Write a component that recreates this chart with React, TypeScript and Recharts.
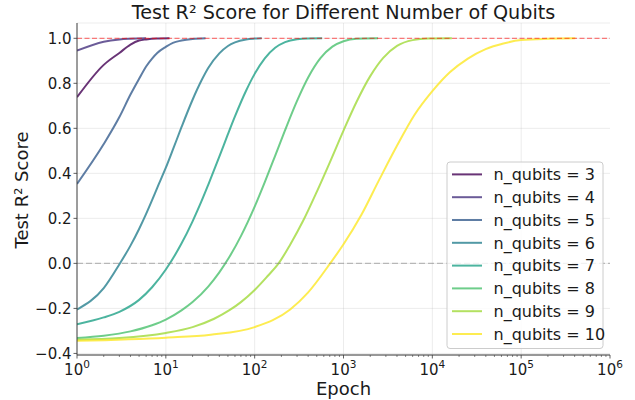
import React from 'react';
import { LineChart, Line, XAxis, YAxis, CartesianGrid, ReferenceLine } from 'recharts';

const QUBITS = [3, 4, 5, 6, 7, 8, 9, 10];
const COLORS = ['#440154', '#46327e', '#365c8d', '#277f8e', '#1fa187', '#4ac16d', '#a0da39', '#fde725'];

const EPOCHS_Q3 = [1, 2, 3, 4, 5, 6, 8, 11];
const R2_Q3 = [0.738, 0.882, 0.935, 0.972, 0.99, 0.995, 0.999, 1.0];
const EPOCHS_Q4 = [1, 2, 3, 4, 6];
const R2_Q4 = [0.945, 0.985, 0.995, 0.998, 1.0];
const EPOCHS_Q5 = [1, 2, 3, 4, 5, 6, 7, 8, 10, 12, 15, 20, 28];
const R2_Q5 = [0.353, 0.53, 0.65, 0.75, 0.82, 0.875, 0.91, 0.935, 0.962, 0.98, 0.99, 0.997, 1.0];
const EPOCHS_Q6 = [1, 2, 3, 4, 5, 6, 7, 8, 10, 12, 15, 20, 25, 30, 40, 50, 60, 80, 100, 120];
const R2_Q6 = [-0.205, -0.11, -0.004, 0.079, 0.153, 0.22, 0.281, 0.336, 0.425, 0.505, 0.605, 0.727, 0.81, 0.868, 0.933, 0.966, 0.982, 0.995, 0.9986, 1.0];
const EPOCHS_Q7 = [1, 2, 3, 5, 7, 10, 15, 20, 25, 30, 40, 50, 60, 80, 100, 130, 170, 220, 300, 400, 575];
const R2_Q7 = [-0.27, -0.24, -0.215, -0.162, -0.106, -0.027, 0.088, 0.187, 0.273, 0.349, 0.474, 0.574, 0.653, 0.767, 0.842, 0.911, 0.958, 0.983, 0.996, 0.9995, 1.0];
const EPOCHS_Q8 = [1, 2, 4, 7, 10, 15, 20, 30, 40, 50, 70, 100, 130, 170, 220, 300, 400, 550, 750, 1000, 1400, 2450];
const R2_Q8 = [-0.331, -0.321, -0.302, -0.275, -0.25, -0.209, -0.172, -0.103, -0.04, 0.018, 0.121, 0.252, 0.361, 0.478, 0.592, 0.722, 0.826, 0.912, 0.963, 0.987, 0.998, 1.0];
const EPOCHS_Q9 = [1, 3, 10, 20, 35, 52, 70, 100, 140, 186, 250, 350, 500, 700, 1000, 1400, 2000, 2800, 4000, 6000, 9000, 16600];
const R2_Q9 = [-0.339, -0.332, -0.309, -0.283, -0.246, -0.208, -0.172, -0.118, -0.056, 0.0, 0.082, 0.188, 0.318, 0.448, 0.59, 0.717, 0.832, 0.913, 0.966, 0.992, 0.999, 1.0];
const EPOCHS_Q10 = [1, 10, 32, 100, 251, 398, 708, 1000, 1585, 2512, 4365, 6310, 10000, 15849, 25119, 39811, 63096, 100000, 199526, 407000];
const R2_Q10 = [-0.344, -0.33, -0.317, -0.283, -0.205, -0.13, 0.0, 0.085, 0.215, 0.37, 0.55, 0.66, 0.765, 0.85, 0.91, 0.952, 0.977, 0.992, 0.998, 1.0];

const EPOCHS = [EPOCHS_Q3, EPOCHS_Q4, EPOCHS_Q5, EPOCHS_Q6, EPOCHS_Q7, EPOCHS_Q8, EPOCHS_Q9, EPOCHS_Q10];
const SCORES = [R2_Q3, R2_Q4, R2_Q5, R2_Q6, R2_Q7, R2_Q8, R2_Q9, R2_Q10];

// x axis: decades 10^0 ... 10^6 (axis runs in log10(epoch))
const X_DECADES = [0, 1, 2, 3, 4, 5, 6];
const Y_TICKS = [-0.4, -0.2, 0, 0.2, 0.4, 0.6, 0.8, 1.0];
const X_DOMAIN = [0, 6];
const Y_DOMAIN = [-0.407, 1.068];

const X_MINOR: number[] = [];
for (let d = 0; d < 6; d++) {
  for (let m = 2; m <= 9; m++) X_MINOR.push(d + Math.log10(m));
}
const X_ALL_TICKS = [...X_DECADES, ...X_MINOR].sort((a, b) => a - b);

const TITLE = 'Test R² Score for Different Number of Qubits';
const X_LABEL = 'Epoch';
const Y_LABEL = 'Test R² Score';

const FONT = 'DejaVu Sans, Liberation Sans, sans-serif';
const FRAME = '#3a3a3a';
const TEXT = '#1a1a1a';

const seriesData = EPOCHS.map((ep, i) => ep.map((e, j) => ({ lx: Math.log10(e), y: SCORES[i][j] })));

const XTick = (props: any) => {
  const { x, y, payload } = props;
  const v = Number(payload.value);
  const major = Math.abs(v - Math.round(v)) < 1e-6;
  return (
    <g>
      <line
        x1={x}
        x2={x}
        y1={y}
        y2={y + (major ? 3.5 : 2)}
        stroke={FRAME}
        strokeWidth={major ? 0.8 : 0.6}
      />
      {major && (
        <text x={x} y={y + 20} textAnchor="middle" fontSize={15} fill={TEXT} fontFamily={FONT}>
          <tspan>10</tspan>
          <tspan dy={-7} fontSize={10.5}>{Math.round(v)}</tspan>
        </text>
      )}
    </g>
  );
};

const YTick = (props: any) => {
  const { x, y, payload } = props;
  const v = Number(payload.value);
  const s = (Math.abs(v) < 1e-9 ? 0 : v).toFixed(1).replace('-', '\u2212');
  return (
    <text x={x} y={y} dy="0.36em" textAnchor="end" fontSize={15} fill={TEXT} fontFamily={FONT}>
      {s}
    </text>
  );
};

export default function App() {
  return (
    <div style={{ position: 'absolute', left: 0, top: 0, width: 635, height: 400, background: '#fff' }}>
      <LineChart width={635} height={400} margin={{ top: 23, right: 25, bottom: 0, left: 0 }}>
        <CartesianGrid stroke="#b0b0b0" strokeOpacity={0.3} strokeWidth={0.8} vertical={false} />
        <XAxis
          dataKey="lx"
          type="number"
          domain={X_DOMAIN}
          ticks={X_ALL_TICKS}
          allowDataOverflow
          height={45}
          tick={<XTick />}
          tickSize={0}
          tickMargin={0}
          tickLine={false}
          axisLine={{ stroke: FRAME, strokeWidth: 1 }}
          interval={0}
        />
        <XAxis
          xAxisId="top"
          orientation="top"
          dataKey="lx"
          type="number"
          domain={X_DOMAIN}
          allowDataOverflow
          height={0}
          tick={false}
          tickLine={false}
          axisLine={{ stroke: FRAME, strokeWidth: 1 }}
        />
        <YAxis
          type="number"
          domain={Y_DOMAIN}
          ticks={Y_TICKS}
          allowDataOverflow
          width={77}
          tick={<YTick />}
          tickSize={3.5}
          tickMargin={2}
          axisLine={{ stroke: FRAME, strokeWidth: 1 }}
          tickLine={{ stroke: FRAME, strokeWidth: 0.8 }}
          interval={0}
        />
        <YAxis
          yAxisId="right"
          orientation="right"
          type="number"
          domain={Y_DOMAIN}
          allowDataOverflow
          width={0}
          tick={false}
          tickLine={false}
          axisLine={{ stroke: FRAME, strokeWidth: 1 }}
        />
        {X_DECADES.slice(1, -1).map((d) => (
          <ReferenceLine key={`g${d}`} x={d} stroke="#b0b0b0" strokeOpacity={0.3} strokeWidth={0.8} />
        ))}
        {seriesData.map((d, i) => (
          <Line
            key={QUBITS[i]}
            data={d}
            dataKey="y"
            type="monotone"
            stroke={COLORS[i]}
            strokeOpacity={0.8}
            strokeWidth={2}
            dot={false}
            activeDot={false}
            isAnimationActive={false}
            name={`n_qubits = ${QUBITS[i]}`}
          />
        ))}
        <ReferenceLine y={1} stroke="#ff0000" strokeOpacity={0.5} strokeWidth={1.3} strokeDasharray="5 2.5" />
        <ReferenceLine y={0} stroke="#808080" strokeOpacity={0.5} strokeWidth={1.3} strokeDasharray="6 3" />
      </LineChart>
      <svg width={635} height={400} style={{ position: 'absolute', left: 0, top: 0, pointerEvents: 'none' }}>
        <text x={343.5} y={19} textAnchor="middle" fontSize={19.2} fill={TEXT} fontFamily={FONT}>
          {TITLE}
        </text>
        <text x={343.5} y={394.5} textAnchor="middle" fontSize={18} fill={TEXT} fontFamily={FONT}>
          {X_LABEL}
        </text>
        <text
          x={28}
          y={190}
          textAnchor="middle"
          fontSize={18}
          fill={TEXT}
          fontFamily={FONT}
          transform="rotate(-90, 28, 190)"
        >
          {Y_LABEL}
        </text>
        <g>
          <rect x={447} y={162} width={156} height={186.5} rx={3} fill="#ffffff" fillOpacity={0.8} stroke="#cccccc" strokeWidth={1} />
          {QUBITS.map((q, i) => {
            const cy = 174.4 + 22.8 * i;
            return (
              <g key={q}>
                <line x1={452} x2={482} y1={cy} y2={cy} stroke={COLORS[i]} strokeOpacity={0.8} strokeWidth={2} />
                <text x={493.5} y={cy} dy="0.36em" fontSize={16} fill={TEXT} fontFamily={FONT}>
                  {`n_qubits = ${q}`}
                </text>
              </g>
            );
          })}
        </g>
      </svg>
    </div>
  );
}
